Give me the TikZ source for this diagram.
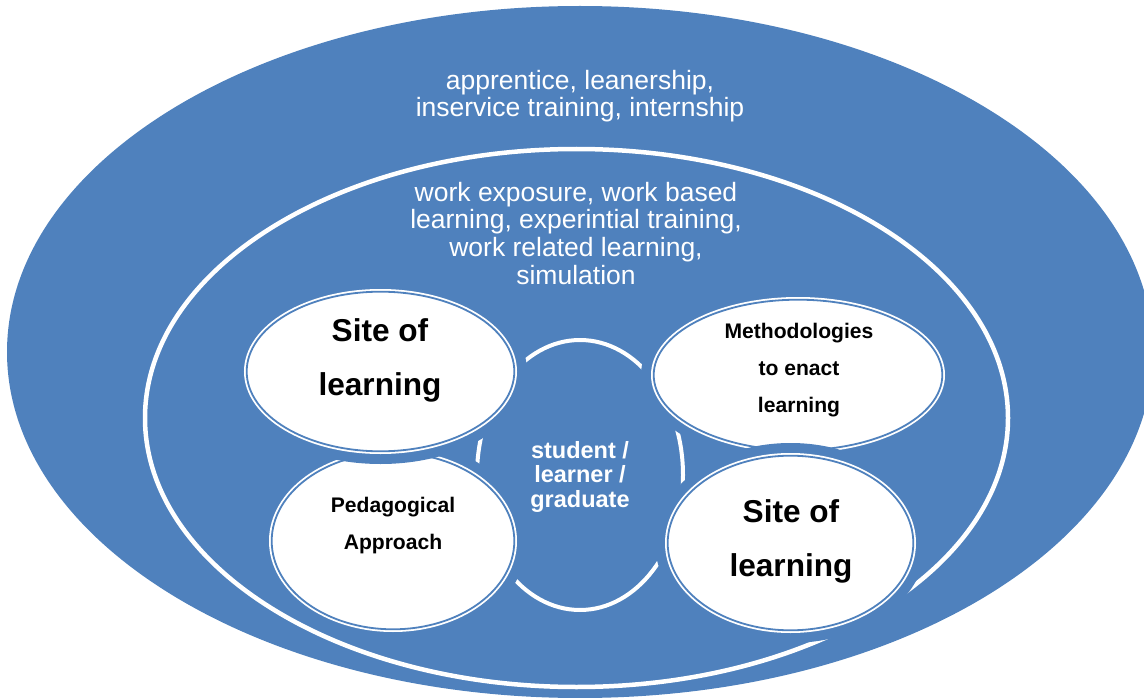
\documentclass[tikz,border=0pt]{standalone}
\usepackage{fontspec}
\setmainfont{Liberation Sans}
\usetikzlibrary{shapes.geometric}
\definecolor{myblue}{HTML}{4F81BD}
\tikzset{
  ell/.style={shape=ellipse, inner sep=0pt, outer sep=0pt},
  bubble/.style={ell, fill=white, draw=white, double=myblue, double distance=1.8pt, line width=1.8pt,
    preaction={draw=myblue, line width=25.4pt}},
  bigtxt/.style={text=white, align=center, font=\fontsize{26.5pt}{27.6pt}\selectfont},
  sitetxt/.style={text=black, align=center, font=\fontsize{31.6pt}{54pt}\selectfont\bfseries},
  smalltxt/.style={text=black, align=center, font=\fontsize{21.1pt}{37pt}\selectfont\bfseries},
  centtxt/.style={text=white, align=center, font=\fontsize{23.5pt}{24.5pt}\selectfont\bfseries}
}
\begin{document}
\begin{tikzpicture}[x=1pt,y=-1pt]
\useasboundingbox (0,0) rectangle (1144,698);
\clip (0,0) rectangle (1144,698);
\node[ell, fill=myblue, minimum width=1146pt, minimum height=692pt] (outer) at (580,352) {};
\node[ell, draw=white, line width=4.5pt, minimum width=863pt, minimum height=538pt] (inner) at (576.5,418) {};
\node[ell, fill=myblue, draw=white, line width=4pt, minimum width=206pt, minimum height=270pt] (center) at (580,475) {};
\node[bubble, minimum width=242.6pt, minimum height=176.6pt] (pedag) at (393,541) {};
\node[bubble, minimum width=267.6pt, minimum height=159.6pt] (sitetl) at (380.5,371.5) {};
\node[bubble, minimum width=288.6pt, minimum height=150.6pt] (method) at (798,375) {};
\node[bubble, minimum width=245.6pt, minimum height=174.6pt] (sitebr) at (790.5,543) {};
\node[bigtxt] (t1) at (580,96.3) {apprentice, leanership,\\inservice training, internship};
\node[bigtxt] (t2) at (576,233.3) {work exposure, work based\\learning, experintial training,\\work related learning,\\simulation};
\node[centtxt] (tc) at (580,476.5) {student /\\learner /\\graduate};
\node[sitetxt] (ttl) at (380,360.7) {Site of\\learning};
\node[sitetxt] (tbr) at (791,541.4) {Site of\\learning};
\node[smalltxt] (tm) at (799,370.4) {Methodologies\\to enact\\learning};
\node[smalltxt] (tp) at (393,525.4) {Pedagogical\\Approach};
\end{tikzpicture}
\end{document}
